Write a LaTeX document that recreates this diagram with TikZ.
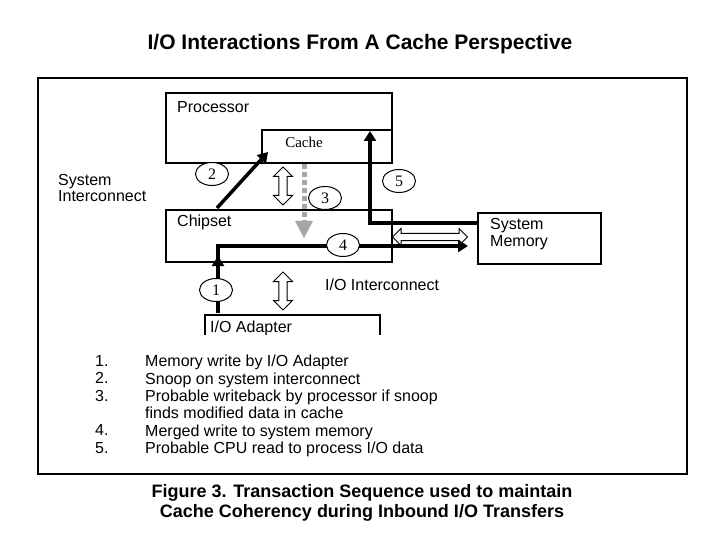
\documentclass[tikz,border=0pt]{standalone}
\usepackage{fontspec}
\setmainfont{Liberation Sans}
\newfontfamily\serifx{Liberation Serif}
\usetikzlibrary{shapes.arrows,shapes.geometric,arrows.meta}
\begin{document}
\begin{tikzpicture}[x=1pt,y=-1pt,
 box/.style={draw,line width=1.2pt,inner sep=0},
 lbl/.style={font=\fontsize{16}{16.5}\selectfont,anchor=west,inner sep=0},
 num/.style={draw,ellipse,line width=1pt,minimum width=33pt,minimum height=23pt,inner sep=0,font=\serifx\fontsize{16}{16}\selectfont,fill=white},
 dbl/.style={draw,double arrow,line width=1pt,minimum width=19pt,double arrow head extend=4pt,inner sep=2.5pt,fill=white},
 flow/.style={line width=3.5pt,-{Triangle[length=10pt,width=12pt]}},
 lst/.style={font=\fontsize{16}{17.4}\selectfont,anchor=north west,inner sep=0,align=left}]
\useasboundingbox (0,0) rectangle (720,540);
\node[font=\bfseries\fontsize{21}{24}\selectfont] (title) at (360,44) {I/O Interactions From A Cache Perspective};
\draw[line width=1.8pt] (38,78) rectangle (687,474);
\node[box,minimum width=226pt,minimum height=70pt] (proc) at (279,128) {};
\node[lbl] (proct) at (177,107) {Processor};
\node[box,minimum width=130pt,minimum height=33pt] (cache) at (327,146.5) {};
\node[font=\serifx\fontsize{15}{16}\selectfont,inner sep=0] (cachet) at (304,142) {Cache};
\node[box,minimum width=226pt,minimum height=52pt] (chip) at (279,236) {};
\node[lbl] (chipt) at (177,222) {Chipset};
\node[box,minimum width=123pt,minimum height=51pt] (mem) at (539.5,238.5) {};
\node[lbl,align=left] (memt) at (490,234) {System\\Memory};
\begin{scope}
\clip (38,78) rectangle (687,334);
\node[box,minimum width=175pt,minimum height=24pt] (ioa) at (292.5,327) {};
\node[lbl] (ioat) at (210,328) {I/O Adapter};
\end{scope}
\node[lbl,align=left] (sit) at (58,188) {System\\Interconnect};
\node[lbl] (iot) at (325,285) {I/O Interconnect};
% hollow double arrows
\node[dbl,rotate=90,minimum height=38pt] (d1) at (283,186) {};
\node[dbl,rotate=90,minimum height=38pt] (d2) at (283,291) {};
\node[dbl,minimum height=75pt,minimum width=17pt] (d3) at (430,237) {};
% 3 dashed grey
\coordinate (c3a) at (304,164);
\coordinate (c3b) at (304,238);
\draw[line width=5pt,gray!70,dash pattern=on 5pt off 3pt] (c3a) -- (304,222);
\fill[gray!70] (295,221) -- (313,221) -- (c3b) -- cycle;
% flows
\coordinate (c2a) at (217,208);
\coordinate (c2b) at (268,152);
\draw[flow] (c2a) -- (c2b);
\coordinate (c5a) at (478,223);
\coordinate (c5b) at (370,131);
\draw[flow] (c5a) -- (370,223) -- (c5b);
\coordinate (c1a) at (218,313);
\coordinate (c4b) at (468,246);
\draw[flow] (c1a) -- (218,246) -- (c4b);
\draw[line width=3.5pt,-{Triangle[length=10pt,width=12pt]}] (c1a) -- (218,256);
\node[num] (n2) at (212,174) {2};
\node[num] (n3) at (325,198) {3};
\node[num] (n5) at (399,181) {5};
\node[num] (n4) at (343,245) {4};
\node[num] (n1) at (216,290) {1};
% list
\node[lst] (l1) at (95,355) {1.\\2.\\3.\\\\4.\\5.};
\node[lst] (l2) at (145,355) {Memory write by I/O Adapter\\Snoop on system interconnect\\Probable writeback by processor if snoop\\finds modified data in cache\\Merged write to system memory\\Probable CPU read to process I/O data};
\node[font=\bfseries\fontsize{18}{19.5}\selectfont,align=center] (cap) at (362,503) {Figure 3. Transaction Sequence used to maintain\\Cache Coherency during Inbound I/O Transfers};
\end{tikzpicture}
\end{document}
